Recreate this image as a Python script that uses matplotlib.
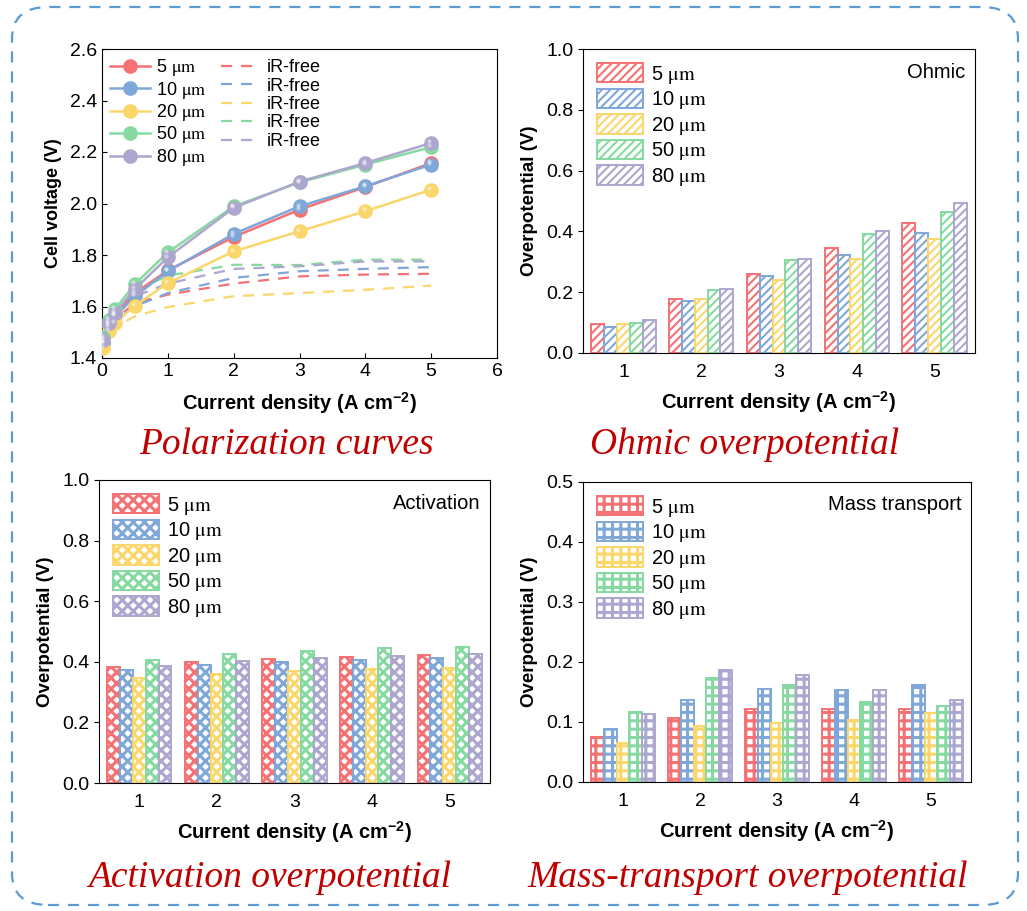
import numpy as np
import matplotlib
matplotlib.use('Agg')
import matplotlib.pyplot as plt
from matplotlib.patches import FancyBboxPatch
from matplotlib.transforms import offset_copy

plt.rcParams['font.family'] = ['Liberation Sans', 'DejaVu Sans']
plt.rcParams['mathtext.fontset'] = 'stix'

# ---- data ----
thick = ['5', '10', '20', '50', '80']
colors = ['#F47174', '#7FA7D8', '#FAD66B', '#86D9A0', '#ACA7CE']

j = [0.02, 0.1, 0.2, 0.5, 1, 2, 3, 4, 5]
v_cell = {
    '5':  [1.46, 1.529, 1.568, 1.652, 1.740, 1.870, 1.976, 2.064, 2.157],
    '10': [1.46, 1.523, 1.562, 1.640, 1.737, 1.882, 1.989, 2.067, 2.151],
    '20': [1.44, 1.504, 1.536, 1.603, 1.691, 1.814, 1.892, 1.970, 2.054],
    '50': [1.48, 1.549, 1.590, 1.687, 1.810, 1.989, 2.082, 2.151, 2.219],
    '80': [1.47, 1.536, 1.575, 1.668, 1.791, 1.983, 2.085, 2.157, 2.235],
}
v_irfree = {
    '5':  [1.45, 1.52, 1.55, 1.614, 1.646, 1.689, 1.717, 1.724, 1.727],
    '10': [1.45, 1.52, 1.55, 1.601, 1.652, 1.711, 1.737, 1.746, 1.753],
    '20': [1.43, 1.50, 1.52, 1.562, 1.598, 1.640, 1.652, 1.665, 1.681],
    '50': [1.47, 1.54, 1.57, 1.659, 1.720, 1.762, 1.761, 1.782, 1.782],
    '80': [1.46, 1.53, 1.56, 1.640, 1.689, 1.746, 1.756, 1.775, 1.775],
}

j_bar = [1, 2, 3, 4, 5]
ohmic = {
    '5':  [0.097, 0.179, 0.261, 0.346, 0.428],
    '10': [0.086, 0.171, 0.252, 0.324, 0.395],
    '20': [0.094, 0.176, 0.241, 0.308, 0.376],
    '50': [0.100, 0.206, 0.305, 0.390, 0.464],
    '80': [0.108, 0.210, 0.310, 0.402, 0.492],
}
activation = {
    '5':  [0.383, 0.400, 0.410, 0.416, 0.424],
    '10': [0.374, 0.389, 0.398, 0.405, 0.411],
    '20': [0.348, 0.361, 0.369, 0.376, 0.380],
    '50': [0.405, 0.425, 0.435, 0.444, 0.448],
    '80': [0.385, 0.403, 0.411, 0.419, 0.426],
}
mass = {
    '5':  [0.075, 0.106, 0.122, 0.121, 0.122],
    '10': [0.088, 0.137, 0.155, 0.154, 0.162],
    '20': [0.065, 0.093, 0.099, 0.103, 0.115],
    '50': [0.117, 0.173, 0.162, 0.134, 0.127],
    '80': [0.113, 0.187, 0.179, 0.154, 0.137],
}

W, H = 1027, 911
fig = plt.figure(figsize=(W / 100, H / 100), dpi=100)


def px_axes(l, t, r, b):
    return fig.add_axes([l / W, 1 - b / H, (r - l) / W, (b - t) / H])


xlab = 'Current density (A cm$^{\\mathregular{-2}}$)'
lab_font = dict(fontsize=14.5, fontweight='bold')
title_font = dict(fontsize=27, style='italic', color='#C00000', family=['Liberation Serif'],
                  ha='center', va='center')
um = r' $\mathrm{\mu m}$'

# ---- polarization curves ----
ax1 = px_axes(102, 49, 497, 358)
shine = offset_copy(ax1.transData, fig=fig, x=-1.3, y=1.3, units='points')
h_solid, h_dash = [], []
for t, c in zip(thick, colors):
    ln, = ax1.plot(j, v_cell[t], '-', color=c, lw=1.8, marker='o', ms=9.5,
                   mfc=c, mec=c, label=t + um, zorder=3)
    ax1.plot(j, v_cell[t], 'o', ms=3, color='white', alpha=0.45, mew=0,
             transform=shine, zorder=4)
    h_solid.append(ln)
for t, c in zip(thick, colors):
    ln, = ax1.plot(j, v_irfree[t], '--', color=c, lw=1.6, dashes=(5, 4), label='iR-free')
    h_dash.append(ln)
ax1.set_xlim(0, 6)
ax1.set_ylim(1.4, 2.6)
ax1.set_xticks(range(7))
ax1.set_yticks(np.arange(1.4, 2.61, 0.2))
ax1.tick_params(direction='in', labelsize=14)
ax1.set_xlabel(xlab, labelpad=8, **lab_font)
ax1.set_ylabel('Cell voltage (V)', labelpad=6, fontsize=13, fontweight='bold')
ax1.legend(h_solid + h_dash, [h.get_label() for h in h_solid + h_dash], ncol=2,
           frameon=False, loc='upper left', fontsize=13, handlelength=2.2,
           handletextpad=0.35, labelspacing=0.08, columnspacing=0.8, borderaxespad=0.05)


# ---- bar panels ----
def bar_panel(ax, data, hatch, hlw, ymax, tag):
    w = 0.165
    x = np.array(j_bar)
    with plt.rc_context({'hatch.linewidth': hlw}):
        for i, (t, c) in enumerate(zip(thick, colors)):
            bars = ax.bar(x + (i - 2) * w, data[t], w, facecolor='white', edgecolor=c,
                          hatch=hatch, lw=1.4, label=t + um)
            for b in bars:
                if hasattr(b, 'set_hatch_linewidth'):
                    b.set_hatch_linewidth(hlw)
    ax.set_xlim(0.48, 5.52)
    ax.set_ylim(0, ymax)
    ax.set_xticks(j_bar)
    ax.tick_params(labelsize=14)
    ax.tick_params(axis='x', length=0, pad=8)
    ax.set_xlabel(xlab, labelpad=6, **lab_font)
    ax.set_ylabel('Overpotential (V)', labelpad=6, fontsize=13.5, fontweight='bold')
    ax.text(0.975, 0.955, tag, transform=ax.transAxes, ha='right', va='top', fontsize=14.5)
    leg = ax.legend(loc='upper left', frameon=False, fontsize=14.5, handlelength=2.3,
                    handleheight=1.1, labelspacing=0.15, handletextpad=0.4, borderaxespad=0.3)
    for p in leg.get_patches():
        if hasattr(p, 'set_hatch_linewidth'):
            p.set_hatch_linewidth(hlw)


ax2 = px_axes(583, 49, 975, 353)
bar_panel(ax2, ohmic, '////', 1.5, 1.0, 'Ohmic')
ax3 = px_axes(99, 480, 490, 783)
bar_panel(ax3, activation, 'xxx', 2.2, 1.0, 'Activation')
ax4 = px_axes(583, 482, 971, 782)
bar_panel(ax4, mass, '++', 2.2, 0.5, 'Mass transport')
ax4.set_yticks(np.arange(0, 0.51, 0.1))

for ax in (ax2, ax3):
    ax.set_yticks(np.arange(0, 1.01, 0.2))

# ---- titles ----
fig.text(287 / W, 1 - 445 / H, 'Polarization curves', **title_font)
fig.text(745 / W, 1 - 445 / H, 'Ohmic overpotential', **title_font)
fig.text(270 / W, 1 - 878 / H, 'Activation overpotential', **title_font)
fig.text(748 / W, 1 - 878 / H, 'Mass-transport overpotential', **title_font)

# ---- dashed rounded frame ----
frame = FancyBboxPatch((12 / W, 6 / H), 1006 / W, 898 / H, transform=fig.transFigure,
                       boxstyle='round,pad=0,rounding_size=0.035', fill=False,
                       edgecolor='#5B9BD5', lw=1.6, ls=(0, (5, 4)))
fig.patches.append(frame)

fig.savefig('out.png', dpi=100)
